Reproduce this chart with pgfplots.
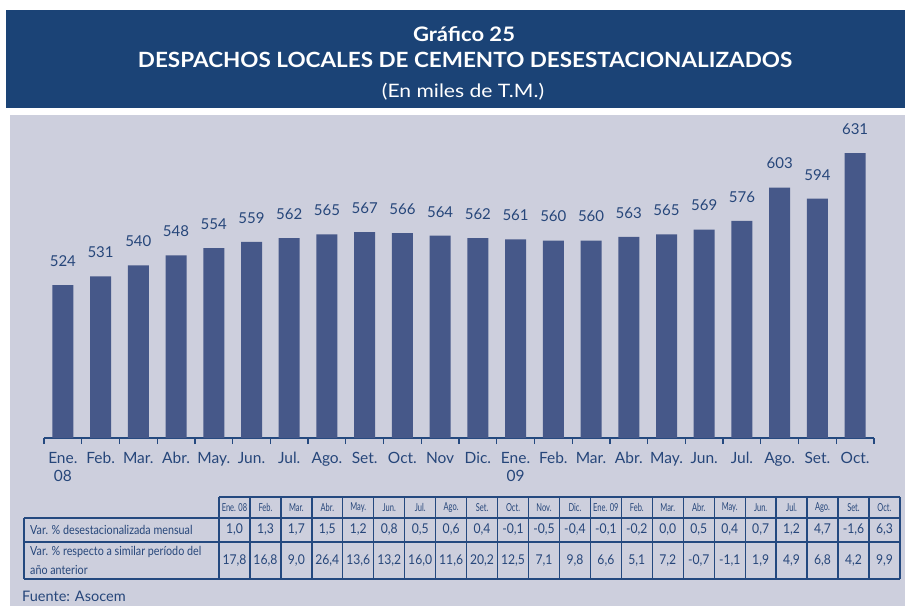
\documentclass[border=0pt]{standalone}
\usepackage{fontspec}
\setmainfont{Lato}
\usepackage{pgfplots}
\pgfplotsset{compat=1.18}
\definecolor{hdr}{HTML}{1B4376}
\definecolor{panel}{HTML}{CDCFDD}
\definecolor{barc}{HTML}{465889}
\definecolor{txt}{HTML}{26467A}
\definecolor{tline}{HTML}{24497F}
\begin{document}
\begin{tikzpicture}
\begin{scope}[x=1pt,y=1pt]
\fill[white] (0,0) rectangle (905,606);
\fill[hdr] (6,596) rectangle (905,498);
\fill[panel] (10,0) rectangle (905,491);
\node[white,font=\fontsize{20}{22}\selectfont\bfseries,anchor=base,inner sep=0pt] at (464,564) {\scalebox{1.1}[1]{Gráfico 25}};
\node[white,font=\fontsize{21}{24}\selectfont\bfseries,anchor=base,inner sep=0pt] at (465,538) {\scalebox{1.07}[1]{DESPACHOS LOCALES DE CEMENTO DESESTACIONALIZADOS}};
\node[white,font=\fontsize{18.5}{22}\selectfont,anchor=base,inner sep=0pt] at (463,508) {\scalebox{1.14}[1]{(En miles de T.M.)}};
% table
\begin{scope}[line width=1.3pt]
\draw[tline] (219,109) -- (900,109);
\draw[tline] (24,88) -- (900,88);
\draw[tline] (24,64) -- (900,64);
\draw[tline] (24,27) -- (900,27);
\draw[tline] (24,88) -- (24,27);
\foreach \i in {0,...,22} {\draw[tline] ({219+\i*30.95},109) -- ({219+\i*30.95},27);}
\end{scope}
\foreach \m [count=\i from 0] in {Ene. 08,Feb.,Mar.,Abr.,May.,Jun.,Jul.,Ago.,Set.,Oct.,Nov.,Dic.,Ene. 09,Feb.,Mar.,Abr.,May.,Jun.,Jul.,Ago.,Set.,Oct.}
  {\node[txt,font=\fontsize{11}{12}\selectfont,inner sep=0pt] at ({219+(\i+0.5)*30.95},98.5) {\scalebox{0.68}[1]{\m}};}
\foreach \v [count=\i from 0] in {{1,0},{1,3},{1,7},{1,5},{1,2},{0,8},{0,5},{0,6},{0,4},{-0,1},{-0,5},{-0,4},{-0,1},{-0,2},{0,0},{0,5},{0,4},{0,7},{1,2},{4,7},{-1,6},{6,3}}
  {\node[txt,font=\fontsize{13.5}{15}\selectfont,inner sep=0pt] at ({219+(\i+0.5)*30.95},76) {\scalebox{0.9}[1]{\v}};}
\foreach \v [count=\i from 0] in {{17,8},{16,8},{9,0},{26,4},{13,6},{13,2},{16,0},{11,6},{20,2},{12,5},{7,1},{9,8},{6,6},{5,1},{7,2},{-0,7},{-1,1},{1,9},{4,9},{6,8},{4,2},{9,9}}
  {\node[txt,font=\fontsize{13.5}{15}\selectfont,inner sep=0pt] at ({219+(\i+0.5)*30.95},45.5) {\scalebox{0.9}[1]{\v}};}
\node[txt,font=\fontsize{12.5}{14}\selectfont,anchor=west,inner sep=0pt] at (30,76) {\scalebox{0.86}[1]{Var. \% desestacionalizada mensual}};
\node[txt,font=\fontsize{12.5}{14}\selectfont,anchor=west,inner sep=0pt] at (30,54) {\scalebox{0.86}[1]{Var. \% respecto a similar período del}};
\node[txt,font=\fontsize{12.5}{14}\selectfont,anchor=west,inner sep=0pt] at (30,36) {\scalebox{0.86}[1]{año anterior}};
\node[txt,font=\fontsize{14.5}{16}\selectfont,anchor=west,inner sep=0pt] at (22,10) {Fuente: Asocem};
\end{scope}
\begin{axis}[
  at={(44pt,168pt)}, anchor=south west, scale only axis,
  width=830pt, height=320.7pt,
  xmin=-0.5, xmax=21.5, ymin=400, ymax=660,
  axis y line=none, axis x line*=bottom,
  x axis line style={tline, line width=1.2pt, -},
  ybar, bar width=21pt,
  xtick={0,...,21},
  xticklabels={{Ene.\\08},Feb.,Mar.,Abr.,May.,Jun.,Jul.,Ago.,Set.,Oct.,Nov,Dic.,{Ene.\\09},Feb.,Mar.,Abr.,May.,Jun.,Jul.,Ago.,Set.,Oct.},
  major tick length=0pt,
  extra x ticks={-0.5,0.5,...,21.5},
  extra x tick labels={},
  extra x tick style={tick align=outside, major tick length=6pt, tick style={tline, line width=1.2pt}},
  xticklabel style={align=center, font=\fontsize{15.5}{18}\selectfont, text=txt, yshift=-11pt},
  nodes near coords,
  nodes near coords style={font=\fontsize{15}{17}\selectfont, text=txt, yshift=15pt},
  /pgf/number format/assume math mode=true,
]
\addplot[fill=barc, draw=none] coordinates {
(0,524) (1,531) (2,540) (3,548) (4,554) (5,559) (6,562) (7,565) (8,567) (9,566) (10,564)
(11,562) (12,561) (13,560) (14,560) (15,563) (16,565) (17,569) (18,576) (19,603) (20,594) (21,631)};
\end{axis}
\end{tikzpicture}
\end{document}
